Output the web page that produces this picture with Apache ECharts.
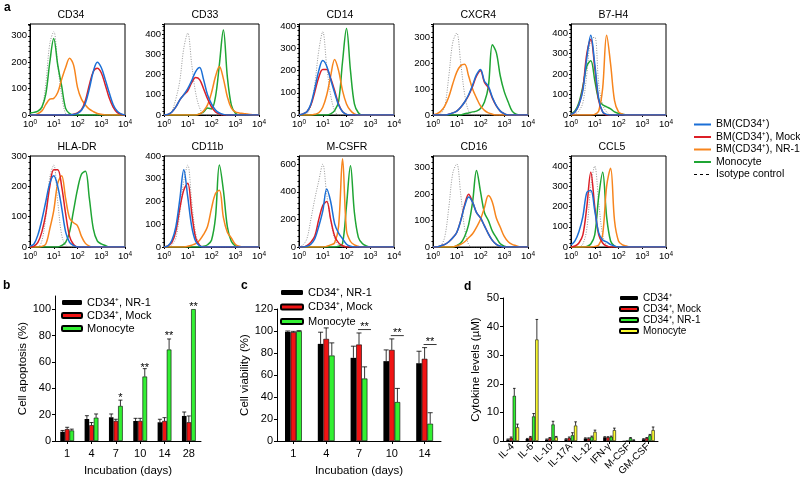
<!DOCTYPE html>
<html><head><meta charset="utf-8">
<script src="https://cdn.jsdelivr.net/npm/echarts@6/dist/echarts.min.js"></script>
<style>html,body{margin:0;padding:0;background:#fff}#c{width:800px;height:485px}</style>
</head><body><div id="c"></div><script>
// ---------- Panel a: flow cytometry histograms ----------
const histX = [1, 1.47, 2.15, 3.16, 4.64, 6.81, 10, 14.7, 21.5, 31.6, 46.4, 68.1, 100, 147, 215, 316, 464, 681, 1000, 1468, 2154, 3162, 4642, 6813, 10000];
const histTickLabels = ['10{s|0}', '10{s|1}', '10{s|2}', '10{s|3}', '10{s|4}'];

const cd34Iso    = [0,0,5,25,120,270,316,190,75,5,0,0,0,0,0,0,0,0,0,0,0,0,0,0,0];
const cd34Green  = [8,10,15,30,80,200,290,190,110,25,5,0,0,0,0,0,0,0,0,0,0,0,0,0,0];
const cd34Orange = [0,0,5,15,40,60,63,85,135,180,215,190,105,60,38,22,13,6,3,0,0,0,0,0,0];
const cd34Red    = [0,0,0,0,0,0,0,0,0,0,0,3,8,20,55,115,165,177,160,115,65,30,10,3,0];
const cd34Blue   = [0,0,0,0,0,0,0,0,0,0,0,2,6,18,45,100,165,200,180,135,85,40,15,4,0];

const cd33Iso    = [0,3,20,80,170,330,405,250,110,35,5,0,0,0,0,0,0,0,0,0,0,0,0,0,0];
const cd33Green  = [0,0,0,0,0,0,0,0,0,5,15,35,30,90,250,420,190,50,10,0,0,0,0,0,0];
const cd33Orange = [0,0,0,0,0,0,0,0,0,5,20,50,110,190,240,180,90,35,15,10,8,5,2,0,0];
const cd33Red    = [0,3,15,40,75,100,120,160,185,175,130,80,40,15,5,0,0,0,0,0,0,0,0,0,0];
const cd33Blue   = [0,3,15,40,75,100,130,170,215,235,175,100,55,25,10,3,0,0,0,0,0,0,0,0,0];

const cd14Iso    = [0,0,5,40,140,290,375,220,90,20,0,0,0,0,0,0,0,0,0,0,0,0,0,0,0];
const cd14Green  = [0,0,0,0,0,0,0,0,5,20,60,240,390,200,50,10,0,0,0,0,0,0,0,0,0];
const cd14Orange = [0,0,0,0,3,10,35,90,175,250,200,110,50,20,5,0,0,0,0,0,0,0,0,0,0];
const cd14Red    = [0,5,15,45,105,170,205,205,165,110,50,15,3,0,0,0,0,0,0,0,0,0,0,0,0];
const cd14Blue   = [0,5,15,50,120,200,245,220,160,100,45,15,3,0,0,0,0,0,0,0,0,0,0,0,0];

const cxcr4Iso    = [0,0,5,35,150,280,315,200,80,15,0,0,0,0,0,0,0,0,0,0,0,0,0,0,0];
const cxcr4Green  = [0,0,0,0,0,0,0,0,5,8,12,15,25,50,110,270,240,150,90,50,15,3,0,0,0];
const cxcr4Orange = [0,5,15,35,70,120,165,190,195,150,100,65,35,18,8,3,0,0,0,0,0,0,0,0,0];
const cxcr4Red    = [0,0,0,0,3,8,15,30,50,75,110,150,170,125,105,65,35,15,5,0,0,0,0,0,0];
const cxcr4Blue   = [0,0,0,0,3,8,15,30,50,78,115,155,175,130,110,68,36,15,5,0,0,0,0,0,0];

const b7h4Iso    = [0,5,20,60,200,370,380,150,50,15,0,0,0,0,0,0,0,0,0,0,0,0,0,0,0];
const b7h4Green  = [5,20,60,140,240,265,170,75,50,40,30,15,8,4,0,0,0,0,0,0,0,0,0,0,0];
const b7h4Orange = [0,0,0,0,0,0,3,20,130,390,250,70,15,5,0,0,0,0,0,0,0,0,0,0,0];
const b7h4Red    = [3,15,50,130,300,370,230,70,15,0,0,0,0,0,0,0,0,0,0,0,0,0,0,0,0];
const b7h4Blue   = [3,15,50,120,280,390,250,80,15,3,0,0,0,0,0,0,0,0,0,0,0,0,0,0,0];

const hladrIso    = [0,0,0,20,100,230,270,150,40,5,0,0,0,0,0,0,0,0,0,0,0,0,0,0,0];
const hladrGreen  = [0,0,0,0,0,0,0,0,5,15,50,120,190,240,250,160,60,20,10,5,0,0,0,0,0];
const hladrOrange = [0,0,0,2,10,60,120,210,235,160,95,80,70,35,12,3,0,0,0,0,0,0,0,0,0];
const hladrBlue   = [3,10,40,90,150,210,235,200,130,50,15,5,0,0,0,0,0,0,0,0,0,0,0,0,0];
const hladrRed    = [0,3,15,50,110,200,255,255,200,110,35,8,0,0,0,0,0,0,0,0,0,0,0,0,0];

const cd11bIso    = [0,0,10,40,150,290,360,200,60,10,0,0,0,0,0,0,0,0,0,0,0,0,0,0,0];
const cd11bGreen  = [0,0,0,0,0,0,0,0,0,0,3,10,30,130,360,250,90,25,5,0,0,0,0,0,0];
const cd11bOrange = [0,0,0,0,0,0,3,8,15,30,55,90,170,235,250,130,65,40,12,3,0,0,0,0,0];
const cd11bRed    = [0,5,20,70,170,250,280,150,40,8,0,0,0,0,0,0,0,0,0,0,0,0,0,0,0];
const cd11bBlue   = [0,5,30,90,210,340,220,90,25,5,0,0,0,0,0,0,0,0,0,0,0,0,0,0,0];

const mcsfrIso    = [0,15,60,200,350,480,600,380,200,60,15,0,0,0,0,0,0,0,0,0,0,0,0,0,0];
const mcsfrGreen  = [0,0,0,0,0,0,0,0,0,0,5,25,300,590,250,70,25,8,0,0,0,0,0,0,0];
const mcsfrOrange = [0,0,0,0,0,0,0,5,15,30,150,640,120,40,15,5,0,0,0,0,0,0,0,0,0];
const mcsfrRed    = [0,0,10,35,80,200,300,330,200,80,30,10,0,0,0,0,0,0,0,0,0,0,0,0,0];
const mcsfrBlue   = [0,0,5,20,60,150,260,420,330,170,100,60,20,5,0,0,0,0,0,0,0,0,0,0,0];

const cd16Iso    = [0,0,5,40,150,280,315,200,70,10,0,0,0,0,0,0,0,0,0,0,0,0,0,0,0];
const cd16Green  = [0,0,0,0,0,0,5,15,40,85,170,290,210,130,100,60,35,12,3,0,0,0,0,0,0];
const cd16Orange = [0,0,0,0,0,0,5,10,20,35,50,75,105,150,195,170,110,75,40,20,10,5,0,0,0];
const cd16Blue   = [0,0,5,10,20,35,55,100,155,190,170,130,110,80,50,25,10,3,0,0,0,0,0,0,0];
const cd16Red    = [0,0,5,10,20,35,55,100,160,200,170,130,110,80,50,25,10,3,0,0,0,0,0,0,0];

const ccl5Iso    = [0,0,0,15,90,300,400,220,60,10,0,0,0,0,0,0,0,0,0,0,0,0,0,0,0];
const ccl5Green  = [0,0,0,0,3,15,60,250,370,150,30,5,0,0,0,0,0,0,0,0,0,0,0,0,0];
const ccl5Orange = [0,0,0,0,0,0,3,10,60,300,390,130,30,10,5,0,0,0,0,0,0,0,0,0,0];
const ccl5Blue   = [10,30,75,150,270,280,180,70,35,25,12,5,0,0,0,0,0,0,0,0,0,0,0,0,0];
const ccl5Red    = [0,5,20,60,200,370,200,60,20,5,0,0,0,0,0,0,0,0,0,0,0,0,0,0,0];

const histTitles = ['CD34','CD33','CD14','CXCR4','B7-H4','HLA-DR','CD11b','M-CSFR','CD16','CCL5'];
const histYMax   = [345, 450, 410, 350, 445, 300, 400, 660, 345, 450];
const histYStep  = [100, 100, 100, 100, 100, 100, 100, 200, 100, 100];
const histSeriesNames = ['a|Isotype control','a|Monocyte','a|BM(CD34⁺), NR-1','a|BM(CD34⁺), Mock','a|BM(CD34⁺)'];
const histCurves = [
  [cd34Iso, cd34Green, cd34Orange, cd34Red, cd34Blue],
  [cd33Iso, cd33Green, cd33Orange, cd33Red, cd33Blue],
  [cd14Iso, cd14Green, cd14Orange, cd14Red, cd14Blue],
  [cxcr4Iso, cxcr4Green, cxcr4Orange, cxcr4Red, cxcr4Blue],
  [b7h4Iso, b7h4Green, b7h4Orange, b7h4Red, b7h4Blue],
  [hladrIso, hladrGreen, hladrOrange, hladrRed, hladrBlue],
  [cd11bIso, cd11bGreen, cd11bOrange, cd11bRed, cd11bBlue],
  [mcsfrIso, mcsfrGreen, mcsfrOrange, mcsfrRed, mcsfrBlue],
  [cd16Iso, cd16Green, cd16Orange, cd16Red, cd16Blue],
  [ccl5Iso, ccl5Green, ccl5Orange, ccl5Red, ccl5Blue]
];

// ---------- Panel b: apoptosis ----------
const bDays = ['1','4','7','10','14','28'];
const bNR1  = [7, 16.7, 18, 15.2, 14.2, 19];
const bNR1Err = [1, 2.5, 2.5, 2, 2.3, 3];
const bMock = [9, 12, 15.2, 15.2, 15.2, 14.2];
const bMockErr = [1.4, 2, 1.3, 2, 2.5, 4.8];
const bMono = [8, 17.7, 26.6, 48.9, 69.4, 100];
const bMonoErr = [1, 2.8, 4.4, 6, 8, 0];
const bSig = ['', '', '*', '**', '**', '**'];
const bSigY = [0, 0, 34.8, 57.4, 82, 104];

// ---------- Panel c: viability ----------
const cDays = ['1','4','7','10','14'];
const cNR1  = [99.2, 88.3, 75.6, 72.6, 70.7];
const cNR1Err = [0.8, 10.6, 10.6, 10.2, 10.9];
const cMock = [98.9, 92.8, 87.7, 82.8, 74.7];
const cMockErr = [0.8, 10, 10.5, 10, 10.2];
const cMono = [99.8, 77.7, 56.8, 35.4, 15.7];
const cMonoErr = [0.5, 11.5, 10.6, 12.4, 10];
const cSig = ['', '', '**', '**', '**'];
const cSigY = [0, 0, 101.3, 95.8, 87.7];

// ---------- Panel d: cytokines ----------
const dCats = ['IL-4','IL-6','IL-10','IL-17A','IL-12','IFN-γ','M-CSF','GM-CSF'];
const dCD34 = [0.5, 0.7, 0.5, 0.6, 0.9, 1.3, 0.1, 0.6];
const dCD34Err = [0.2, 0.2, 0.2, 0.2, 0.2, 0.2, 0, 0.2];
const dMock = [1.1, 1.3, 1.0, 1.1, 0.9, 1.3, 0.1, 1.0];
const dMockErr = [0.3, 0.3, 0.2, 0.3, 0.2, 0.2, 0, 0.2];
const dNR1 = [15.8, 8.6, 5.8, 2.0, 1.4, 1.5, 1.0, 2.0];
const dNR1Err = [2.6, 1.0, 1.1, 0.9, 0.3, 0.2, 0.2, 0.3];
const dMono = [4.8, 35.5, 1.3, 5.4, 3.2, 3.8, 0.3, 3.8];
const dMonoErr = [1.1, 7.0, 0.3, 1.3, 0.6, 0.7, 0.1, 1.1];

// ---------- build ----------
const FONT = '"Liberation Sans", Arial, Helvetica, sans-serif';
const histColors = ['#8a8a8a', '#1fa534', '#f7851d', '#dc1f26', '#1b6fd6'];
const histLefts = [30, 164, 299, 433, 571];
const histTops = [24, 156];
const grids = [], xAxes = [], yAxes = [], series = [], graphics = [];

histTitles.forEach((t, k) => {
  const left = histLefts[k % 5], top = histTops[Math.floor(k / 5)];
  grids.push({left, top, width: 95, height: 91, show: true, borderColor: '#000', borderWidth: 1, backgroundColor: 'transparent'});
  xAxes.push({type: 'log', logBase: 10, min: 1, max: 10000, gridIndex: k,
    axisLine: {lineStyle: {color: '#000', width: 1}}, axisTick: {length: 2, lineStyle: {color: '#000'}},
    splitLine: {show: false},
    axisLabel: {color: '#000', fontSize: 9.5, fontFamily: FONT, margin: 4,
      formatter: v => histTickLabels[Math.round(Math.log10(v))],
      rich: {s: {fontSize: 6.5, fontFamily: FONT, verticalAlign: 'top', lineHeight: 7}}}});
  const mx = histYMax[k], st = histYStep[k];
  yAxes.push({type: 'value', gridIndex: k, min: 0, max: mx, interval: st,
    axisLine: {show: true, lineStyle: {color: '#000', width: 1}},
    axisTick: {show: true, length: 2, lineStyle: {color: '#000'}},
    minorTick: {show: true, splitNumber: 5, length: 1.5, lineStyle: {color: '#000'}},
    splitLine: {show: false},
    axisLabel: {color: '#000', fontSize: 9.5, fontFamily: FONT, margin: 3, showMaxLabel: mx % st === 0}});
  graphics.push({type: 'text', left: left + 47.5 - 20, top: top - 14, style: {text: t, width: 40, align: 'center', fill: '#000', font: '10.5px ' + FONT}});
  histCurves[k].forEach((arr, j) => {
    series.push({type: 'line', name: histSeriesNames[j], xAxisIndex: k, yAxisIndex: k,
      data: histX.map((x, i) => [x, arr[i]]), showSymbol: false, symbol: 'none', smooth: 0.35,
      lineStyle: j === 0 ? {color: histColors[0], width: 0.9, type: [1, 1.5]} : {color: histColors[j], width: 1.5},
      itemStyle: {color: histColors[j]}, z: 2 + j, silent: true});
  });
});

// bar grids
const GB = 10, GC = 11, GD = 12;
grids.push({left: 55, top: 296, width: 146, height: 145});
grids.push({left: 277, top: 309, width: 164, height: 132});
grids.push({left: 503, top: 298, width: 155, height: 143});

function catAxis(g, cats, extra) {
  return Object.assign({type: 'category', gridIndex: g, data: cats,
    axisLine: {lineStyle: {color: '#000', width: 1}},
    axisTick: {show: true, alignWithLabel: true, length: 3, lineStyle: {color: '#000'}},
    axisLabel: {color: '#000', fontSize: 11, fontFamily: FONT, margin: 7}}, extra || {});
}
function valAxis(g, max, interval, name, gap, extra) {
  return Object.assign({type: 'value', gridIndex: g, min: 0, max, interval,
    axisLine: {show: true, lineStyle: {color: '#000', width: 1}},
    axisTick: {show: true, length: 3, lineStyle: {color: '#000'}},
    splitLine: {show: false},
    axisLabel: {color: '#000', fontSize: 11, fontFamily: FONT, margin: 4, showMaxLabel: max % interval === 0},
    name, nameLocation: 'middle', nameGap: gap, nameTextStyle: {color: '#000', fontSize: 11.5, fontFamily: FONT}}, extra || {});
}
xAxes.push(catAxis(GB, bDays, {name: 'Incubation (days)', nameLocation: 'middle', nameGap: 24, nameTextStyle: {color: '#000', fontSize: 11.5, fontFamily: FONT}}));
xAxes.push(catAxis(GC, cDays, {name: 'Incubation (days)', nameLocation: 'middle', nameGap: 24, nameTextStyle: {color: '#000', fontSize: 11.5, fontFamily: FONT}}));
xAxes.push(catAxis(GD, dCats, {axisLabel: {color: '#000', fontSize: 10, fontFamily: FONT, margin: 4, rotate: 45, interval: 0}}));
yAxes.push(valAxis(GB, 110, 20, 'Cell apoptosis (%)', 19));
yAxes.push(valAxis(GC, 120, 20, 'Cell viability (%)', 25));
yAxes.push(valAxis(GD, 50, 10, 'Cytokine levels (µM)', 21));

const BLACK = '#000000', RED = '#f01414', GREEN = '#33f033', YELLOW = '#ffff33';
function barS(name, g, data, color, w) {
  return {type: 'bar', name, xAxisIndex: g, yAxisIndex: g, data, barWidth: w, barGap: '0%',
    itemStyle: {color, borderColor: '#000', borderWidth: color === BLACK ? 0 : 0.6}, silent: true, z: 2};
}
function errS(g, vals, errs, off, cap) {
  return {type: 'custom', xAxisIndex: g, yAxisIndex: g, silent: true, z: 4,
    data: vals.map((v, i) => [i, v, errs[i]]),
    renderItem: (p, api) => {
      const e = api.value(2);
      if (!e) return null;
      const a = api.coord([api.value(0), api.value(1)]);
      const b = api.coord([api.value(0), api.value(1) + e]);
      const x = a[0] + off;
      return {type: 'group', children: [
        {type: 'line', shape: {x1: x, y1: a[1], x2: x, y2: b[1]}, style: {stroke: '#000', lineWidth: 0.8}},
        {type: 'line', shape: {x1: x - cap, y1: b[1], x2: x + cap, y2: b[1]}, style: {stroke: '#000', lineWidth: 0.8}}
      ]};
    }};
}
// b
const wb = 4.6;
series.push(barS('bc|CD34⁺, NR-1', GB, bNR1, BLACK, wb), barS('bc|CD34⁺, Mock', GB, bMock, RED, wb), barS('bc|Monocyte', GB, bMono, GREEN, wb));
series.push(errS(GB, bNR1, bNR1Err, -wb, 2), errS(GB, bMock, bMockErr, 0, 2), errS(GB, bMono, bMonoErr, wb, 2));
series.push({type: 'custom', xAxisIndex: GB, yAxisIndex: GB, silent: true, z: 5,
  data: bSigY.map((v, i) => [i, v, i]),
  renderItem: (p, api) => {
    const s = bSig[api.value(2)];
    if (!s) return null;
    const a = api.coord([api.value(0), api.value(1)]);
    return {type: 'text', x: a[0] + wb, y: a[1] + 3, style: {text: s, align: 'center', verticalAlign: 'middle', fill: '#000', font: '11px ' + FONT}};
  }});
// c
const wc = 5.6;
series.push(barS('bc|CD34⁺, NR-1', GC, cNR1, BLACK, wc), barS('bc|CD34⁺, Mock', GC, cMock, RED, wc), barS('bc|Monocyte', GC, cMono, GREEN, wc));
series.push(errS(GC, cNR1, cNR1Err, -wc, 2.5), errS(GC, cMock, cMockErr, 0, 2.5), errS(GC, cMono, cMonoErr, wc, 2.5));
series.push({type: 'custom', xAxisIndex: GC, yAxisIndex: GC, silent: true, z: 5,
  data: cSigY.map((v, i) => [i, v, i]),
  renderItem: (p, api) => {
    const s = cSig[api.value(2)];
    if (!s) return null;
    const a = api.coord([api.value(0), api.value(1)]);
    const x1 = a[0] - 1, x2 = a[0] + 12;
    return {type: 'group', children: [
      {type: 'line', shape: {x1, y1: a[1], x2, y2: a[1]}, style: {stroke: '#000', lineWidth: 0.8}},
      {type: 'text', x: (x1 + x2) / 2, y: a[1] - 3, style: {text: s, align: 'center', verticalAlign: 'middle', fill: '#000', font: '11px ' + FONT}}
    ]};
  }});
// d
const wd = 3.2;
series.push(barS('d|CD34⁺', GD, dCD34, BLACK, wd), barS('d|CD34⁺, Mock', GD, dMock, RED, wd), barS('d|CD34⁺, NR-1', GD, dNR1, GREEN, wd), barS('d|Monocyte', GD, dMono, YELLOW, wd));
series.push(errS(GD, dCD34, dCD34Err, -1.5 * wd, 1.3), errS(GD, dMock, dMockErr, -0.5 * wd, 1.3), errS(GD, dNR1, dNR1Err, 0.5 * wd, 1.3), errS(GD, dMono, dMonoErr, 1.5 * wd, 1.3));

// panel letters
[['a', 4, 2], ['b', 3, 280], ['c', 241, 280], ['d', 464, 281]].forEach(([t, x, y]) => {
  graphics.push({type: 'text', left: x, top: y, style: {text: t, fill: '#000', font: 'bold 12px ' + FONT}});
});

const fmt = n => n.split('|').pop();
const legends = [
  {orient: 'vertical', left: 688, top: 114, itemWidth: 17, itemHeight: 10, itemGap: 1.5, itemTextGap: 6, formatter: fmt, selectedMode: false,
   itemStyle: {opacity: 0},
   textStyle: {color: '#000', fontSize: 10.5, fontFamily: FONT},
   data: ['a|BM(CD34⁺)', 'a|BM(CD34⁺), Mock', 'a|BM(CD34⁺), NR-1', 'a|Monocyte',
     {name: 'a|Isotype control', lineStyle: {color: '#000', type: [3, 3], width: 1.2}}]},
  {orient: 'vertical', left: 56, top: 292, itemWidth: 20, itemHeight: 5, itemGap: 2, formatter: fmt, selectedMode: false,
   textStyle: {color: '#000', fontSize: 11, fontFamily: FONT},
   data: ['bc|CD34⁺, NR-1', 'bc|CD34⁺, Mock', 'bc|Monocyte']},
  {orient: 'vertical', left: 275, top: 282, itemWidth: 22, itemHeight: 5, itemGap: 3.5, formatter: fmt, selectedMode: false,
   textStyle: {color: '#000', fontSize: 11, fontFamily: FONT},
   data: ['bc|CD34⁺, NR-1', 'bc|CD34⁺, Mock', 'bc|Monocyte']},
  {orient: 'vertical', left: 614, top: 288, itemWidth: 18, itemHeight: 4, itemGap: 1, formatter: fmt, selectedMode: false,
   textStyle: {color: '#000', fontSize: 10, fontFamily: FONT},
   data: ['d|CD34⁺', 'd|CD34⁺, Mock', 'd|CD34⁺, NR-1', 'd|Monocyte']}
];

const chart = echarts.init(document.getElementById('c'), null, {renderer: 'canvas'});
chart.setOption({
  animation: false, backgroundColor: '#fff', textStyle: {fontFamily: FONT},
  grid: grids, xAxis: xAxes, yAxis: yAxes, series, legend: legends, graphic: graphics
});
</script></body></html>
